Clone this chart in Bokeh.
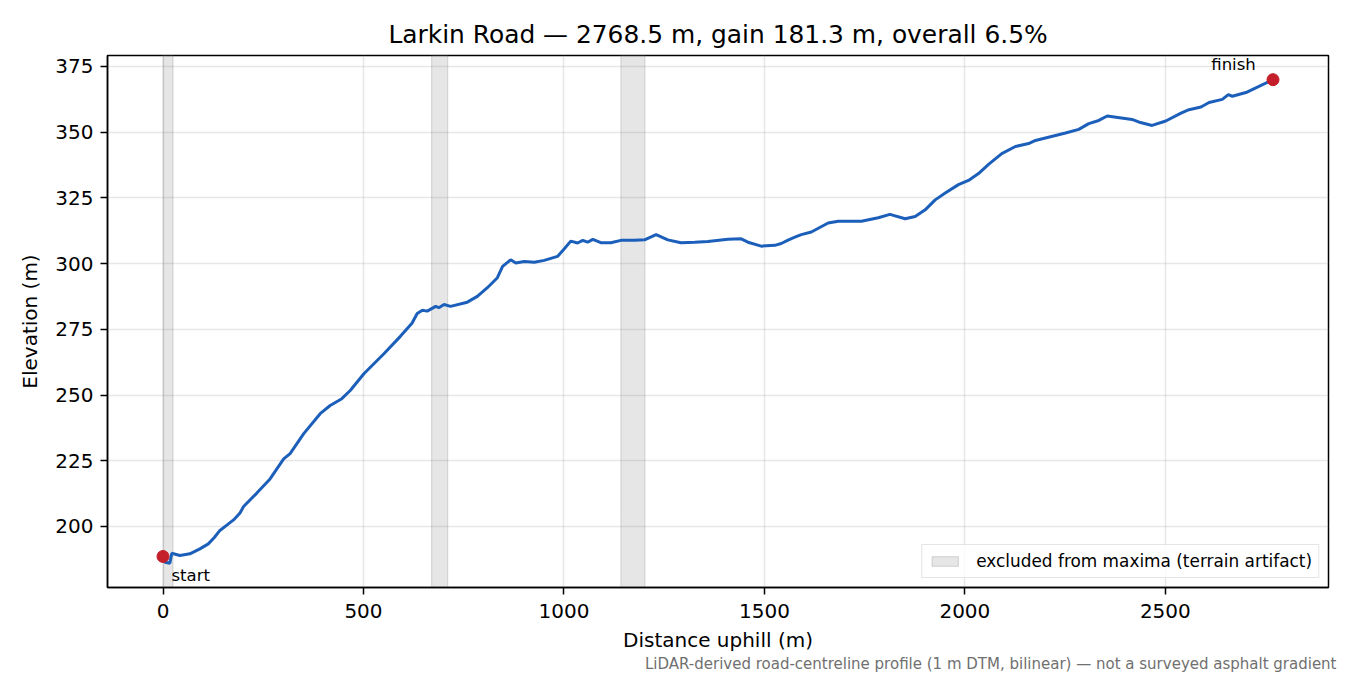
from bokeh.plotting import figure
from bokeh.models import Range1d, FixedTicker, Title, Legend, LegendItem
from bokeh.core.properties import value
from bokeh.embed import file_html
from bokeh.resources import INLINE

# Profile (distance uphill in m, elevation in m)
distance = [0, 5, 17, 22, 42, 67, 92, 113, 128, 142, 160, 176, 192, 201, 234, 267, 301, 317,
            351, 392, 417, 446, 467, 501, 551, 592, 621, 634, 647, 659, 680, 688,
            701, 717, 759, 784, 809, 834, 847, 867, 880, 901, 926, 951, 984, 1001,
            1017, 1034, 1047, 1059, 1072, 1092, 1117, 1142, 1176, 1201, 1230, 1259,
            1292, 1326, 1359, 1409, 1442, 1459, 1492, 1526, 1542, 1559, 1576, 1592,
            1617, 1659, 1684, 1742, 1784, 1813, 1851, 1876, 1901, 1926, 1951, 1984,
            2009, 2034, 2059, 2092, 2126, 2159, 2176, 2251, 2284, 2309, 2334, 2355,
            2417, 2438, 2467, 2501, 2539, 2559, 2589, 2609, 2642, 2657, 2667, 2701,
            2768.5]
elevation = [188.6, 186.4, 186.0, 189.8, 189.0, 189.6, 191.5, 193.4, 195.8, 198.5, 200.6,
             202.5, 205.1, 207.6, 212.7, 218.1, 225.7, 227.7, 235.3, 242.9, 246.0, 248.6,
             251.7, 258.1, 265.7, 272.3, 277.3, 281.0, 282.2, 281.9, 283.7, 283.2,
             284.4, 283.7, 285.3, 287.5, 290.8, 294.6, 298.9, 301.4, 300.2, 300.8,
             300.5, 301.2, 302.7, 305.6, 308.5, 307.8, 308.8, 308.1, 309.2, 307.9,
             307.9, 308.8, 308.8, 309.0, 311.0, 309.0, 307.9, 308.1, 308.4, 309.2,
             309.4, 308.1, 306.6, 306.9, 307.6, 308.9, 310.0, 311.0, 312.0, 315.4,
             316.1, 316.1, 317.4, 318.7, 317.0, 317.9, 320.4, 324.2, 326.8, 330.0,
             331.6, 334.2, 337.7, 341.8, 344.5, 345.6, 346.8, 349.6, 351.0, 353.2,
             354.4, 356.1, 354.8, 353.6, 352.5, 354.2, 357.2, 358.5, 359.5, 361.2,
             362.4, 364.2, 363.6, 365.0, 369.9]

# Stretches excluded from maxima (terrain artifacts)
excluded_start = [0, 670, 1142]
excluded_end = [25, 710, 1202]

x_ticks = [0, 500, 1000, 1500, 2000, 2500]
y_ticks = [200, 225, 250, 275, 300, 325, 350, 375]

TITLE = "Larkin Road \u2014 2768.5 m, gain 181.3 m, overall 6.5%"
FOOTNOTE = ("LiDAR-derived road-centreline profile (1 m DTM, bilinear) "
            "\u2014 not a surveyed asphalt gradient")
FONT = "DejaVu Sans"
LINE_COLOR = "#1c5fba"
DOT_COLOR = "#c41e2a"


def padded(lo, hi, frac=0.05):
    span = hi - lo
    return lo - span * frac, hi + span * frac


x_lo, x_hi = padded(min(distance), max(distance))
y_lo, y_hi = padded(min(elevation), max(elevation))

p = figure(
    width=1338, height=672, output_backend="svg", toolbar_location=None,
    x_range=Range1d(x_lo, x_hi), y_range=Range1d(y_lo, y_hi),
    min_border_left=107, min_border_right=10, min_border_top=55, min_border_bottom=85,
    background_fill_color="white", border_fill_color="white",
)

p.title.text = TITLE
p.title.align = "center"
p.title.text_font = FONT
p.title.text_font_size = "24.9px"
p.title.text_font_style = "normal"
p.title.text_color = "black"
p.title.standoff = 14

# footnote under the x-axis label, right aligned
p.add_layout(Title(text=FOOTNOTE, align="right", offset=-8, standoff=-4, text_font=FONT,
                   text_font_size="15px", text_font_style="normal",
                   text_color="#707070"), "below")

p.outline_line_color = "black"
p.outline_line_width = 1.5

for ax in (p.xaxis, p.yaxis):
    ax.axis_line_color = "black"
    ax.axis_line_width = 1.5
    ax.major_tick_line_color = "black"
    ax.major_tick_line_width = 1.5
    ax.major_tick_out = 7
    ax.major_tick_in = 0
    ax.minor_tick_line_color = None
    ax.major_label_text_font = FONT
    ax.major_label_text_font_size = "20px"
    ax.major_label_text_color = "black"
    ax.axis_label_text_font = FONT
    ax.axis_label_text_font_size = "20px"
    ax.axis_label_text_font_style = "normal"
    ax.axis_label_text_color = "black"

p.xaxis.axis_label = "Distance uphill (m)"
p.yaxis.axis_label = "Elevation (m)"
p.xaxis.ticker = FixedTicker(ticks=x_ticks)
p.yaxis.ticker = FixedTicker(ticks=y_ticks)
p.xaxis.major_label_standoff = 9
p.yaxis.major_label_standoff = 7
p.xaxis.axis_label_standoff = 7
p.yaxis.axis_label_standoff = 10

p.xgrid.ticker = FixedTicker(ticks=x_ticks)
p.ygrid.ticker = FixedTicker(ticks=y_ticks)
p.grid.grid_line_color = "#b0b0b0"
p.grid.grid_line_alpha = 0.3
p.grid.grid_line_width = 1.5

bands = p.quad(left=excluded_start, right=excluded_end, bottom=y_lo, top=y_hi,
               fill_color="gray", fill_alpha=0.2, line_color="gray", line_alpha=0.25,
               line_width=1.2)

p.line(distance, elevation, line_color=LINE_COLOR, line_width=3)

p.scatter([distance[0], distance[-1]], [elevation[0], elevation[-1]],
          size=12, fill_color=DOT_COLOR, line_color=DOT_COLOR)

p.text([distance[0]], [elevation[0]], text=["start"], x_offset=8.5, y_offset=19,
       text_font=value(FONT), text_font_size="16.5px", text_color="black",
       text_baseline="alphabetic", text_align="left")
p.text([distance[-1]], [elevation[-1]], text=["finish"], x_offset=-39.5, y_offset=-15,
       text_font=value(FONT), text_font_size="16.5px", text_color="black",
       text_baseline="alphabetic", text_align="center")

legend = Legend(items=[LegendItem(label="excluded from maxima (terrain artifact)",
                                  renderers=[bands])],
                location="bottom_right")
legend.margin = 9
legend.padding = 6
legend.spacing = 0
legend.glyph_width = 33
legend.glyph_height = 12
legend.label_standoff = 15
legend.label_text_font = FONT
legend.label_text_font_size = "16.9px"
legend.label_text_color = "black"
legend.border_line_color = "#cccccc"
legend.border_line_width = 1.5
legend.background_fill_color = "white"
legend.background_fill_alpha = 0.8
p.add_layout(legend, "center")

open("out.html", "w").write(file_html(p, INLINE))
